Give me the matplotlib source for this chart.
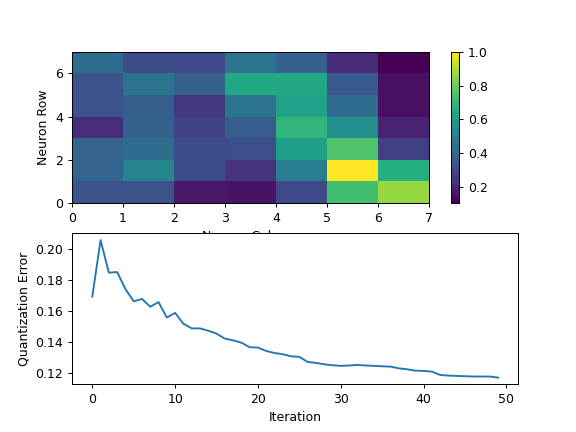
import numpy as np
import matplotlib
matplotlib.use("Agg")
import matplotlib.pyplot as plt

# SOM weights grid (rows bottom -> top, columns left -> right)
row0 = [0.33, 0.33, 0.16, 0.15, 0.30, 0.73, 0.86]
row1 = [0.39, 0.51, 0.31, 0.24, 0.48, 1.00, 0.66]
row2 = [0.39, 0.42, 0.31, 0.32, 0.61, 0.75, 0.27]
row3 = [0.22, 0.38, 0.28, 0.37, 0.69, 0.55, 0.19]
row4 = [0.33, 0.37, 0.25, 0.45, 0.62, 0.42, 0.14]
row5 = [0.33, 0.45, 0.38, 0.64, 0.64, 0.35, 0.14]
row6 = [0.42, 0.31, 0.30, 0.45, 0.38, 0.21, 0.105]

errors = [0.1695, 0.206, 0.185, 0.1854, 0.1744, 0.1665, 0.168, 0.163, 0.166, 0.156,
          0.159, 0.152, 0.149, 0.149, 0.1475, 0.1456, 0.1424, 0.1413, 0.1398, 0.1368,
          0.1366, 0.1344, 0.1331, 0.1323, 0.131, 0.1306, 0.1273, 0.1267, 0.1258, 0.1252,
          0.1248, 0.125, 0.1254, 0.125, 0.1248, 0.1245, 0.1243, 0.1232, 0.1226, 0.1217,
          0.1215, 0.1211, 0.1189, 0.1185, 0.1183, 0.1181, 0.1179, 0.1179, 0.1179, 0.1172]

grid = np.array([row0, row1, row2, row3, row4, row5, row6])

fig = plt.figure(figsize=(6.4, 4.8), dpi=90)
ax1 = plt.subplot(2, 1, 1)
mesh = ax1.pcolormesh(grid, cmap="viridis")
plt.colorbar(mesh, ax=ax1)
ax1.set_xlabel("Neuron Column")
ax1.set_ylabel("Neuron Row")

ax2 = plt.subplot(2, 1, 2)
ax2.plot(range(len(errors)), errors)
ax2.set_xlabel("Iteration")
ax2.set_ylabel("Quantization Error")

fig.savefig("out.png", dpi=90)
